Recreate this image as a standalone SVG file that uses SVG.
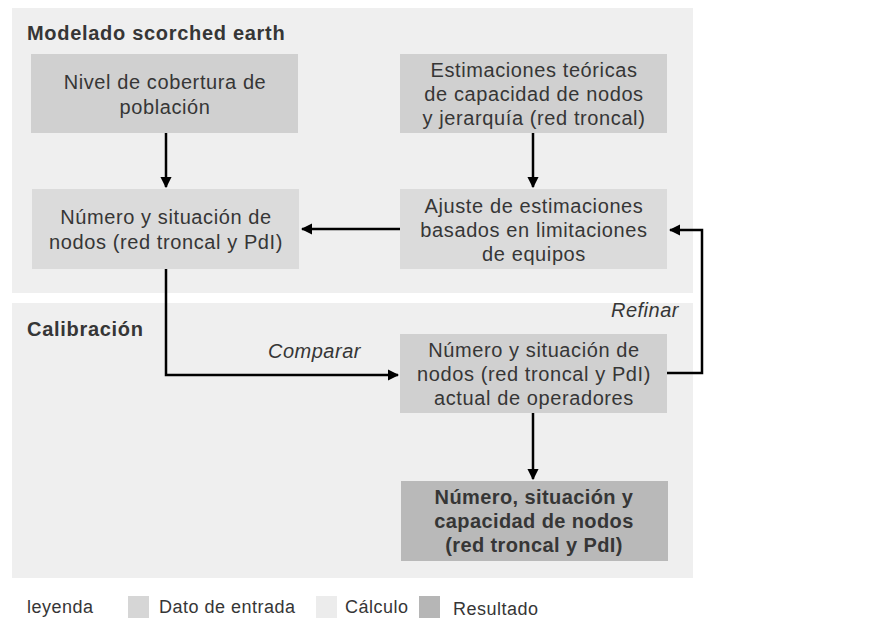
<svg xmlns="http://www.w3.org/2000/svg" width="879" height="620" viewBox="0 0 879 620">
<style>
.panel{fill:#efefef}
.in{fill:#d0d0d0}
.calc{fill:#dbdbdb}
.res{fill:#b9b9b9}
text{font-family:"Liberation Sans",Arial,sans-serif;fill:#363636}
.t{font-size:20px;letter-spacing:0.6px;text-anchor:middle}
.tb{font-size:20px;font-weight:bold;letter-spacing:0.4px;text-anchor:middle}
.h{font-size:20px;font-weight:bold;letter-spacing:0.7px}
.i{font-size:20px;font-style:italic;letter-spacing:0.5px}
.lg{font-size:18px;letter-spacing:0.5px}
.c{fill:none;stroke:#000;stroke-width:2.5}
</style>
<defs>
<marker id="ah" viewBox="0 0 10 10" refX="9" refY="5" markerWidth="4.6" markerHeight="4.6" orient="auto" markerUnits="strokeWidth">
<path d="M0,0 L10,5 L0,10 z" fill="#000"/>
</marker>
</defs>
<rect width="879" height="620" fill="#fff"/>
<rect class="panel" x="12" y="8" width="681" height="285"/>
<rect class="panel" x="12" y="303" width="681" height="275"/>
<text class="h" x="27" y="40">Modelado scorched earth</text>
<text class="h" x="27" y="336">Calibración</text>

<g id="n1">
<rect class="in" x="31" y="54" width="267" height="79"/>
<text class="t" x="165" y="89">Nivel de cobertura de</text>
<text class="t" x="165" y="114">población</text>
</g>
<g id="n2">
<rect class="calc" x="32" y="189" width="267" height="80"/>
<text class="t" x="166" y="224">Número y situación de</text>
<text class="t" x="166" y="249">nodos (red troncal y PdI)</text>
</g>
<g id="n3">
<rect class="in" x="400" y="54" width="267" height="79"/>
<text class="t" x="534" y="77">Estimaciones teóricas</text>
<text class="t" x="534" y="101">de capacidad de nodos</text>
<text class="t" x="534" y="125">y jerarquía (red troncal)</text>
</g>
<g id="n4">
<rect class="calc" x="400" y="189" width="267" height="80"/>
<text class="t" x="534" y="213">Ajuste de estimaciones</text>
<text class="t" x="534" y="237">basados en limitaciones</text>
<text class="t" x="534" y="261">de equipos</text>
</g>
<g id="n5">
<rect class="in" x="400" y="334" width="267" height="79"/>
<text class="t" x="534" y="357">Número y situación de</text>
<text class="t" x="534" y="381">nodos (red troncal y PdI)</text>
<text class="t" x="534" y="405">actual de operadores</text>
</g>
<g id="n6">
<rect class="res" x="401" y="481" width="267" height="80"/>
<text class="tb" x="534" y="504">Número, situación y</text>
<text class="tb" x="534" y="528">capacidad de nodos</text>
<text class="tb" x="534" y="552">(red troncal y PdI)</text>
</g>

<g id="connectors">
<path class="c" d="M166,133 V187" marker-end="url(#ah)"/>
<path class="c" d="M533,133 V187" marker-end="url(#ah)"/>
<path class="c" d="M400,229 H302" marker-end="url(#ah)"/>
<path class="c" d="M166,269 V375 H398" marker-end="url(#ah)"/>
<path class="c" d="M667,373 H702 V230 H670" marker-end="url(#ah)"/>
<path class="c" d="M533,413 V479" marker-end="url(#ah)"/>
<text class="i" x="268" y="358">Comparar</text>
<text class="i" x="611" y="317">Refinar</text>
</g>

<g id="legend">
<text class="lg" x="27" y="613">leyenda</text>
<rect x="128" y="596" width="21" height="22" fill="#d6d6d6"/>
<text class="lg" x="159" y="613">Dato de entrada</text>
<rect x="316" y="596" width="21" height="22" fill="#ececec"/>
<text class="lg" x="345" y="613">Cálculo</text>
<rect x="419" y="596" width="21" height="22" fill="#b6b6b6"/>
<text class="lg" x="453" y="615">Resultado</text>
</g>
</svg>
